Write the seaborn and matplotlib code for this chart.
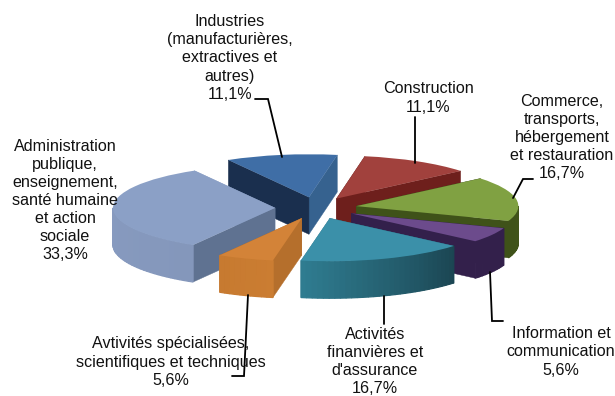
import numpy as np
import matplotlib
matplotlib.use("Agg")
import matplotlib.pyplot as plt
from matplotlib.colors import to_rgb
import seaborn as sns

# Values, counter-clockwise from the Construction slice
labels = ["Construction\n11,1%",
          "Industries\n(manufacturières,\nextractives et\nautres)\n11,1%",
          "Administration\npublique,\nenseignement,\nsanté humaine\net action\nsociale\n33,3%",
          "Avtivités spécialisées,\nscientifiques et techniques\n5,6%",
          "Activités\nfinanvières et\nd'assurance\n16,7%",
          "Information et\ncommunication\n5,6%",
          "Commerce,\ntransports,\nhébergement\net restauration\n16,7%"]
shares = [11.1, 11.1, 33.3, 5.6, 16.7, 5.6, 16.7]

top_colors = ["#a1413d", "#3f6ea6", "#8ba0c6", "#d38338", "#3b90a9", "#6c4b8c", "#80a142"]
start_face = ["#6e1f1c", "#36628f", "#8ba0c6", "#b56f2c", "#2f7a8e", "#33204b", "#3f5219"]
end_face = ["#6e1f1c", "#1a2f4e", "#5f7291", "#b56f2c", "#2f7a8e", "#33204b", "#3f5219"]
rim_from = ["#6e1f1c", "#2f5582", "#8a9ec4", "#c77a30", "#2f7c90", "#33204b", "#3f5219"]
rim_to = ["#7d2a26", "#2f5582", "#8497bb", "#cb7d32", "#1b4552", "#33204b", "#42561b"]

# back to front
draw_order = [0, 1, 6, 2, 5, 3, 4]

# pie geometry in figure pixels
CX, CY = 316, 208
RX, RY = 162, 43
DEPTH = 37 / RY
EXPLODE = 0.253
START = 40

sns.set_theme(style="white")
plt.rcParams["font.family"] = ["Liberation Sans", "DejaVu Sans"]

fig = plt.figure(figsize=(6.15, 3.96), dpi=100, facecolor="white")
ax = fig.add_axes([0, 0, 1, 1])

wedges, _ = ax.pie(shares, colors=sns.color_palette(top_colors), startangle=START,
                   radius=1, explode=[EXPLODE] * len(shares),
                   wedgeprops={"linewidth": 0})

# side walls of each slice, worked out from the shares
angles = START + np.concatenate([[0], np.cumsum(shares)]) / np.sum(shares) * 360
for rank, i in enumerate(draw_order):
    a0, a1 = angles[i], angles[i + 1]
    mid = np.radians((a0 + a1) / 2)
    ox, oy = EXPLODE * np.cos(mid), EXPLODE * np.sin(mid)
    z = 2 + rank
    wedges[i].set_zorder(z + 0.5)

    # flat cut faces, lower one last
    faces = sorted([(a0, start_face[i]), (a1, end_face[i])],
                   key=lambda f: -np.sin(np.radians(f[0])))
    for a, col in faces:
        ex, ey = ox + np.cos(np.radians(a)), oy + np.sin(np.radians(a))
        ax.fill([ox, ex, ex, ox], [oy, ey, ey - DEPTH, oy - DEPTH],
                color=col, lw=0.3, zorder=z)

    # outer rim, only the part turned towards the viewer
    steps = np.arange(a0, a1, 2.0)
    c0, c1 = np.array(to_rgb(rim_from[i])), np.array(to_rgb(rim_to[i]))
    for k, s in enumerate(steps):
        e = min(s + 2.0, a1)
        if np.sin(np.radians((s + e) / 2)) >= 0:
            continue
        t = np.radians([s, e])
        xs = ox + np.cos(t)
        ys = oy + np.sin(t)
        ax.fill([xs[0], xs[1], xs[1], xs[0]],
                [ys[0], ys[1], ys[1] - DEPTH, ys[0] - DEPTH],
                color=c0 + (c1 - c0) * k / max(len(steps) - 1, 1), lw=0.9,
                zorder=z + 0.2)

ax.set_aspect("auto")
ax.set_xlim(-CX / RX, (615 - CX) / RX)
ax.set_ylim(-(396 - CY) / RY, CY / RY)
ax.axis("off")

# overlay in pixels for the leader lines and the labels
ann = fig.add_axes([0, 0, 1, 1], facecolor="none")
ann.set_xlim(0, 615)
ann.set_ylim(396, 0)
ann.axis("off")

leaders = [([415, 415], [163, 117]),
           ([282, 268, 255], [157, 99, 99]),
           ([], []),
           ([248, 244, 232], [295, 376, 376]),
           ([384, 384], [296, 324]),
           ([490, 492, 503], [272, 321, 321]),
           ([513, 523, 533], [198, 179, 179])]
for xs, ys in leaders:
    ann.plot(xs, ys, color="black", lw=1.3, solid_joinstyle="miter")

label_pos = [(428, 98), (230, 58), (65, 200.5), (171, 362), (375, 361.5), (561, 352), (562, 137.5)]
for text, (x, y) in zip(labels, label_pos):
    ann.text(x, y, text, ha="center", va="center", fontsize=11.6, color="#111111",
             linespacing=1.26)

fig.savefig("out.png", dpi=100)
